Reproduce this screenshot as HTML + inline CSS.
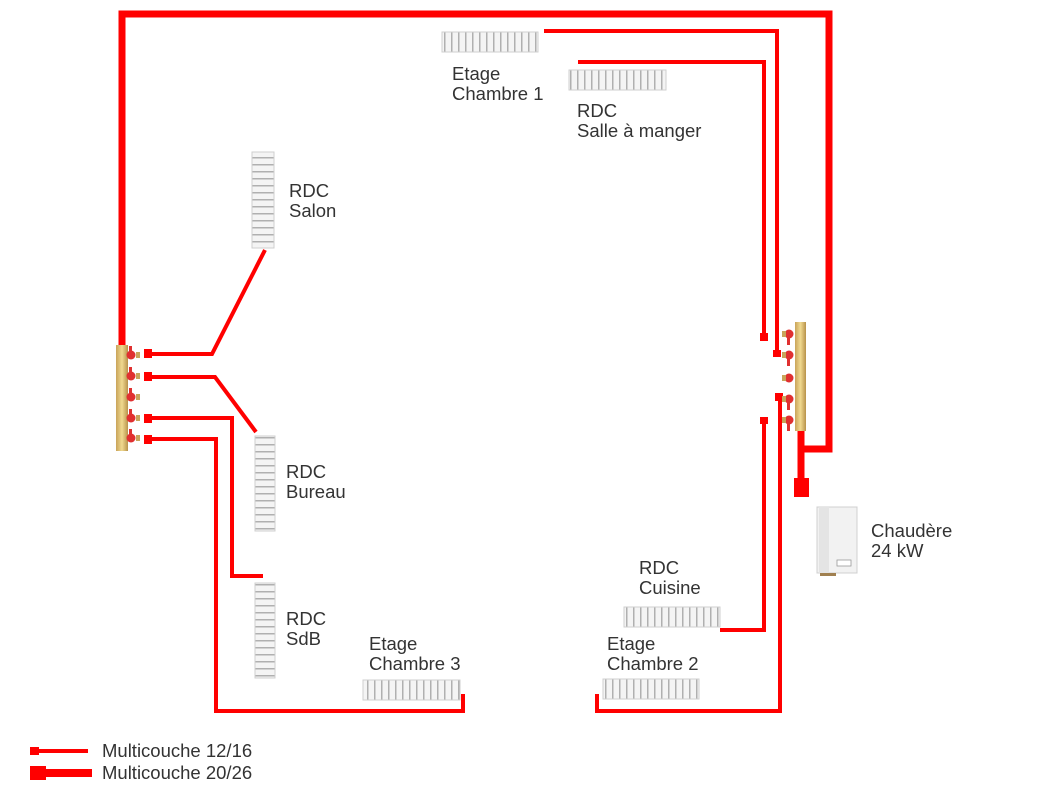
<!DOCTYPE html>
<html><head><meta charset="utf-8"><style>
html,body{margin:0;padding:0;background:#fff;}
svg{display:block;}
text{font-family:"Liberation Sans",Arial,sans-serif;font-size:18.5px;fill:#333;}
</style></head><body>
<svg width="1058" height="794" viewBox="0 0 1058 794" xmlns="http://www.w3.org/2000/svg">
<defs>
<pattern id="hf" x="0" y="0" width="7" height="20" patternUnits="userSpaceOnUse">
<rect x="0" y="0" width="7" height="20" fill="#f4f4f4"/><rect x="3" y="0" width="1.5" height="20" fill="#b0b0b0"/></pattern>
<pattern id="vf" x="0" y="0" width="20" height="7" patternUnits="userSpaceOnUse">
<rect x="0" y="0" width="20" height="7" fill="#f4f4f4"/><rect x="0" y="3" width="20" height="1.5" fill="#b0b0b0"/></pattern>
<linearGradient id="brass" x1="0" x2="1"><stop offset="0" stop-color="#c9a45a"/><stop offset=".5" stop-color="#f0d98f"/><stop offset="1" stop-color="#b8924a"/></linearGradient>
</defs>

<g fill="none" stroke="#ff0000" stroke-width="7">
<polyline points="122,345 122,14 829,14 829,449 803,449"/>
<line x1="801" y1="428" x2="801" y2="485"/>
</g>
<rect x="794" y="478" width="15" height="19" fill="#ff0000"/>

<g fill="none" stroke="#ff0000" stroke-width="4">
<polyline points="544,31 777,31 777,352"/>
<polyline points="578,62 764,62 764,338"/>
<polyline points="720,630 764,630 764,420"/>
<polyline points="597,694 597,711 780,711 780,398"/>
<polyline points="150,354 212,354 265,250"/>
<polyline points="150,377 215,377 256,432"/>
<polyline points="150,418 232,418 232,576 263,576"/>
<polyline points="150,439 216,439 216,711 463,711 463,694"/>
</g>
<g fill="#ff0000">
<rect x="760" y="333" width="8" height="8"/>
<rect x="773" y="350" width="8" height="7"/>
<rect x="775" y="393" width="8" height="8"/>
<rect x="760" y="417" width="8" height="7"/>
<rect x="144" y="349" width="8" height="9"/>
<rect x="144" y="372" width="8" height="9"/>
<rect x="144" y="414" width="8" height="9"/>
<rect x="144" y="435" width="8" height="9"/>
</g>

<rect x="116" y="345" width="12" height="106" fill="url(#brass)"/>
<g fill="#e03030">
<circle cx="131" cy="355" r="4.5"/><circle cx="131" cy="376" r="4.5"/><circle cx="131" cy="397" r="4.5"/><circle cx="131" cy="418" r="4.5"/><circle cx="131" cy="438" r="4.5"/>
<rect x="129" y="346" width="3" height="8"/><rect x="129" y="367" width="3" height="8"/><rect x="129" y="388" width="3" height="8"/><rect x="129" y="409" width="3" height="8"/><rect x="129" y="429" width="3" height="8"/>
</g>
<g fill="#c9a45a"><rect x="136" y="352" width="4" height="6"/><rect x="136" y="373" width="4" height="6"/><rect x="136" y="394" width="4" height="6"/><rect x="136" y="415" width="4" height="6"/><rect x="136" y="435" width="4" height="6"/></g>

<rect x="795" y="322" width="11" height="109" fill="url(#brass)"/>
<g fill="#e03030">
<circle cx="789" cy="334" r="4.5"/><circle cx="789" cy="355" r="4.5"/><circle cx="789" cy="378" r="4.5"/><circle cx="789" cy="399" r="4.5"/><circle cx="789" cy="420" r="4.5"/>
<rect x="787" y="336" width="3" height="9"/><rect x="787" y="357" width="3" height="9"/><rect x="787" y="401" width="3" height="9"/><rect x="787" y="422" width="3" height="9"/>
</g>
<g fill="#c9a45a"><rect x="782" y="331" width="4" height="6"/><rect x="782" y="352" width="4" height="6"/><rect x="782" y="375" width="4" height="6"/><rect x="782" y="396" width="4" height="6"/><rect x="782" y="417" width="4" height="6"/></g>

<g stroke="#cfcfcf" stroke-width="1">
<rect x="252" y="152" width="22" height="96" fill="url(#vf)"/>
<rect x="255" y="436" width="20" height="95" fill="url(#vf)"/>
<rect x="255" y="583" width="20" height="95" fill="url(#vf)"/>
<rect x="442" y="32" width="96" height="20" fill="url(#hf)"/>
<rect x="569" y="70" width="97" height="20" fill="url(#hf)"/>
<rect x="624" y="607" width="96" height="20" fill="url(#hf)"/>
<rect x="603" y="679" width="96" height="20" fill="url(#hf)"/>
<rect x="363" y="680" width="97" height="20" fill="url(#hf)"/>
</g>

<rect x="817" y="507" width="40" height="66" fill="#f2f2f2" stroke="#d0d0d0"/>
<rect x="819" y="507" width="10" height="66" fill="#e4e4e4"/>
<rect x="837" y="560" width="14" height="6" fill="#fff" stroke="#999" stroke-width="0.8"/>
<rect x="820" y="573" width="16" height="3" fill="#a08050"/>

<text x="452" y="80">Etage</text><text x="452" y="100">Chambre 1</text>
<text x="577" y="117">RDC</text><text x="577" y="137">Salle à manger</text>
<text x="289" y="197">RDC</text><text x="289" y="217">Salon</text>
<text x="286" y="478">RDC</text><text x="286" y="498">Bureau</text>
<text x="286" y="625">RDC</text><text x="286" y="645">SdB</text>
<text x="369" y="650">Etage</text><text x="369" y="670">Chambre 3</text>
<text x="639" y="574">RDC</text><text x="639" y="594">Cuisine</text>
<text x="607" y="650">Etage</text><text x="607" y="670">Chambre 2</text>
<text x="871" y="537">Chaudère</text><text x="871" y="557">24 kW</text>

<rect x="30" y="747" width="9" height="8" fill="#ff0000"/>
<line x1="30" y1="751" x2="88" y2="751" stroke="#ff0000" stroke-width="4"/>
<rect x="30" y="766" width="16" height="14" fill="#ff0000"/>
<line x1="30" y1="773" x2="92" y2="773" stroke="#ff0000" stroke-width="8"/>
<text x="102" y="757">Multicouche 12/16</text>
<text x="102" y="779">Multicouche 20/26</text>
</svg>
</body></html>
